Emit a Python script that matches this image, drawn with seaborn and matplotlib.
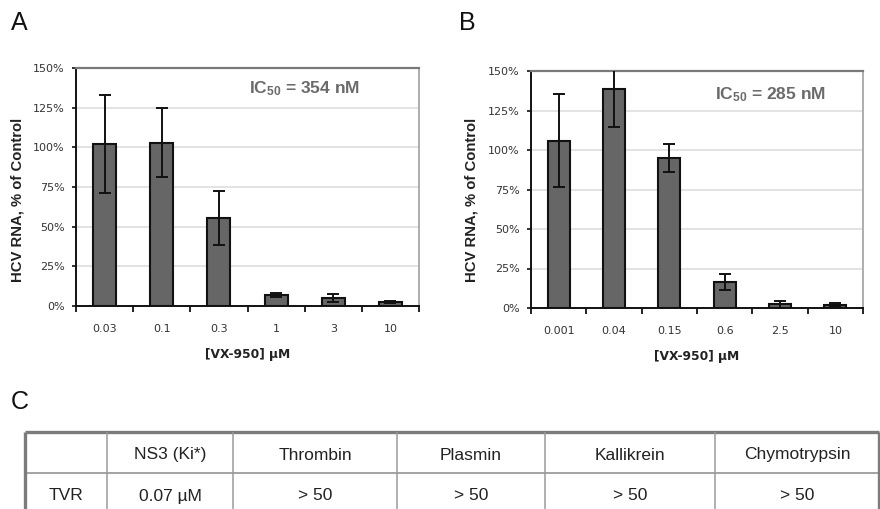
import matplotlib
matplotlib.use("Agg")
import matplotlib.pyplot as plt
from matplotlib.ticker import FixedLocator, FuncFormatter
import seaborn as sns
import pandas as pd

# Panel A: replicon dose response
conc_a = ["0.03", "0.1", "0.3", "1", "3", "10"]
rna_a = [102, 103, 55.5, 7, 5, 2.5]
err_a = [31, 22, 17, 1.5, 2.6, 0.8]
ic50_a = "354 nM"

# Panel B: second dose series
conc_b = ["0.001", "0.04", "0.15", "0.6", "2.5", "10"]
rna_b = [106, 138.5, 95, 16.5, 2.5, 1.8]
err_b = [29.5, 24, 8.7, 5, 2.2, 1.2]
ic50_b = "285 nM"

# Panel C: protease selectivity table
table_header = ["", "NS3 (Ki*)", "Thrombin", "Plasmin", "Kallikrein", "Chymotrypsin"]
table_row = ["TVR", "0.07 µM", "> 50", "> 50", "> 50", "> 50"]

sns.set_style("white")
plt.rcParams["font.family"] = ["DejaVu Sans"]
plt.rcParams["mathtext.fontset"] = "custom"
plt.rcParams["mathtext.rm"] = "Liberation Sans:bold"
plt.rcParams["mathtext.bf"] = "Liberation Sans:bold"
plt.rcParams["mathtext.it"] = "Liberation Sans:bold"

W, H = 880, 509
fig = plt.figure(figsize=(W / 100, H / 100), dpi=100)

# pixel-space background axes for panel letters and the table
bg = fig.add_axes([0, 0, 1, 1], zorder=0)
bg.set_xlim(0, W)
bg.set_ylim(H, 0)
bg.axis("off")


def px_axes(left, top, right, bottom):
    return fig.add_axes([left / W, 1 - bottom / H, (right - left) / W, (bottom - top) / H], zorder=2)


def dose_panel(ax, conc, vals, errs, ic50, ic_xy, ylab_xy):
    df = pd.DataFrame({"conc": conc, "rna": vals})
    sns.barplot(data=df, x="conc", y="rna", order=conc, ax=ax, width=0.4,
                color="#666666", saturation=1, edgecolor="#111111", linewidth=1.5,
                errorbar=None)
    ax.errorbar(range(len(conc)), vals, yerr=errs, fmt="none", ecolor="#111111",
                elinewidth=1.4, capsize=4, capthick=1.4, zorder=4)
    ax.set_xlim(-0.5, len(conc) - 0.5)
    ax.set_ylim(0, 150)
    ax.set_yticks([0, 25, 50, 75, 100, 125, 150])
    ax.yaxis.set_major_formatter(FuncFormatter(lambda v, p: f"{v:.0f}%"))
    ax.grid(axis="y", color="#dedede", linewidth=1.2)
    ax.grid(axis="x", visible=False)
    ax.set_axisbelow(True)
    for side in ("left", "bottom"):
        ax.spines[side].set_color("#111111")
        ax.spines[side].set_linewidth(1.4)
    ax.spines["top"].set_color("#7a7a7a")
    ax.spines["top"].set_linewidth(1.6)
    ax.spines["right"].set_color("#a0a0a0")
    ax.spines["right"].set_linewidth(1.2)
    ax.tick_params(axis="y", left=True, length=3, width=1.2, color="#111111",
                   pad=5, labelsize=8, labelcolor="#333333")
    ax.xaxis.set_minor_locator(FixedLocator([i - 0.5 for i in range(len(conc) + 1)]))
    ax.tick_params(axis="x", which="minor", bottom=True, length=4.5, width=1.3,
                   color="#111111", direction="out")
    ax.tick_params(axis="x", which="major", bottom=True, length=0, pad=13,
                   labelsize=8, labelcolor="#333333")
    ax.set_xlabel("[VX-950] µM", fontsize=8.8, fontweight="bold", color="#222222",
                  labelpad=10)
    ax.set_ylabel("HCV RNA, % of Control", fontsize=10.7, fontweight="bold",
                  color="#222222", family="Liberation Sans", va="center")
    ax.yaxis.set_label_coords(*ylab_xy)
    ax.text(ic_xy[0], ic_xy[1], r"IC$_{50}$ = " + ic50, transform=ax.transAxes,
            ha="center", va="center", fontsize=12.5, fontweight="bold",
            color="#6b6b6b", family="Liberation Sans")


ax_a = px_axes(76, 68, 419, 306)
dose_panel(ax_a, conc_a, rna_a, err_a, ic50_a, (0.665, 0.915), (-0.17, 0.445))
ax_b = px_axes(531, 71, 863, 308)
dose_panel(ax_b, conc_b, rna_b, err_b, ic50_b, (0.72, 0.9), (-0.178, 0.455))

# panel letters
for letter, x, y in (("A", 11, 23), ("B", 459, 23), ("C", 11, 402)):
    bg.text(x, y, letter, ha="left", va="center", fontsize=18,
            family="Liberation Sans", color="#111111")

# selectivity table
col_edges = [25, 107, 233, 397, 545, 715, 879]
row_top, row_mid, row_bot = 432, 473, 509
bg.plot([col_edges[0], col_edges[-1]], [row_top, row_top], color="#7c7c7c", lw=2.4,
        solid_capstyle="butt")
bg.plot([col_edges[0], col_edges[-1]], [row_mid, row_mid], color="#8a8a8a", lw=1.1)
for i, xe in enumerate(col_edges):
    outer = i in (0, len(col_edges) - 1)
    bg.plot([xe, xe], [row_top, row_bot], color="#7c7c7c" if outer else "#9a9a9a",
            lw=2.4 if outer else 1.1, solid_capstyle="butt")
for j in range(len(table_header)):
    cx = (col_edges[j] + col_edges[j + 1]) / 2
    bg.text(cx, 455, table_header[j], ha="center", va="center", fontsize=12.5,
            family="Liberation Sans", color="#222222")
    bg.text(cx, 496, table_row[j], ha="center", va="center", fontsize=12.5,
            family="Liberation Sans", color="#222222")

fig.savefig("out.png", dpi=100)
